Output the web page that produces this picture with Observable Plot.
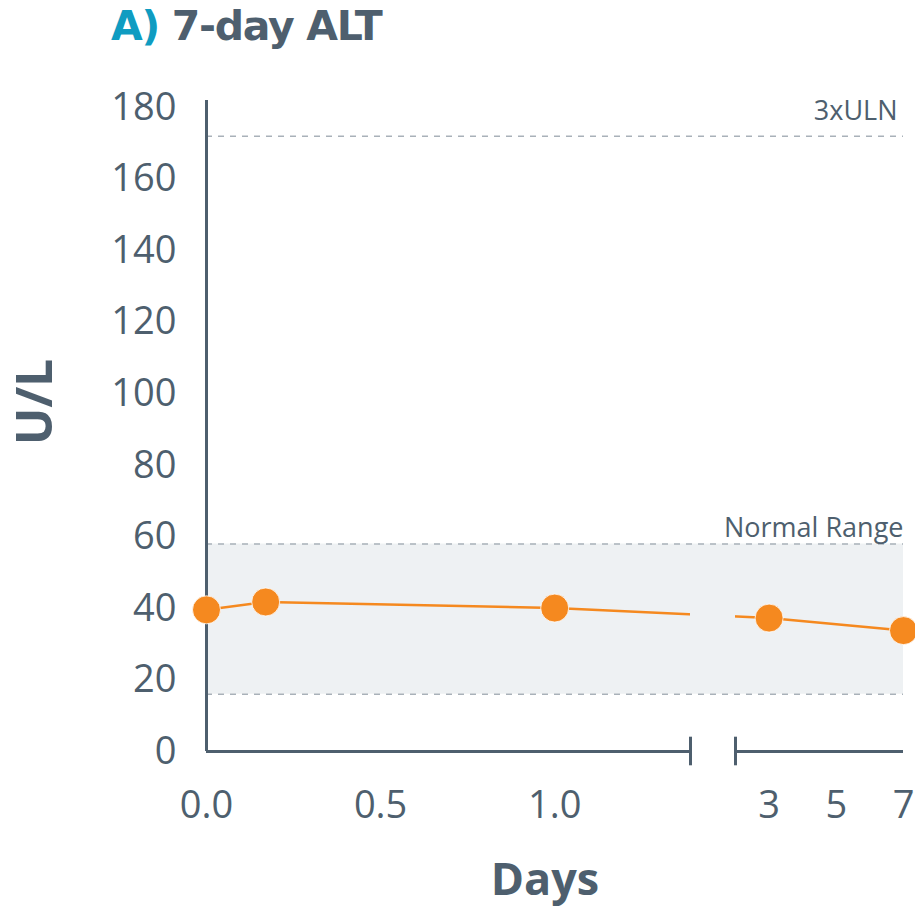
<!DOCTYPE html>
<html>
<head>
<meta charset="utf-8">
<script src="https://cdn.jsdelivr.net/npm/d3@7"></script>
<script src="https://cdn.jsdelivr.net/npm/@observablehq/plot@0.6"></script>
<style>
  html, body { margin: 0; padding: 0; background: #fff; }
  #wrap { position: relative; width: 915px; height: 907px; }
  #title { position: relative; height: 70px; }
  #title span.t { position: absolute; left: 111px; top: 2px; font-family: "DejaVu Sans", sans-serif; font-weight: 700; font-size: 41px; line-height: 48px; letter-spacing: -1.3px; color: #4e5f6e; white-space: nowrap; }
  #title span.a { color: #0f9cc1; }
  svg { display: block; }
</style>
</head>
<body>
<div id="wrap">
  <div id="title"><span class="t"><span class="a">A)</span> 7-day ALT</span></div>
  <div id="chart"></div>
</div>
<script>
// ---- data ----
const days = [0, 0.17, 1, 3, 7];
const alt = [39.6, 41.8, 40.1, 37.3, 33.8];
const yTicks = [0, 20, 40, 60, 80, 100, 120, 140, 160, 180];
const xTicks = [0, 0.5, 1, 3, 5, 7];
const xTickLabels = ["0.0", "0.5", "1.0", "3", "5", "7"];
const normalRange = [16, 58];
const uln3 = 172;
const axisBreak = [1.39, 2];   // end of first segment, start of second segment (days)
const xMax = 7;
const yMax = 182;

const points = days.map((d, i) => ({day: d, alt: alt[i]}));
const labelOf = new Map(xTicks.map((t, i) => [t, xTickLabels[i]]));

const ink = "#4e5f6e";
const orange = "#f5891f";
const shade = "#eef1f3";
const dash = "#a9b1b9";

const chart = Plot.plot({
  width: 915,
  height: 837,
  marginTop: 30,
  marginBottom: 156,
  marginLeft: 206,
  marginRight: 12,
  style: {fontFamily: "'Open Sans', sans-serif", color: ink, background: "#fff", overflow: "visible"},
  x: {type: "linear", domain: [0, axisBreak[0], axisBreak[1], xMax], range: [206, 690, 735, 903]},
  y: {domain: [0, yMax]},
  marks: [
    // normal range band
    Plot.rect([normalRange], {x1: 0, x2: xMax, y1: d => d[0], y2: d => d[1], fill: shade}),
    // dashed reference lines
    Plot.ruleY(normalRange, {x1: 0, x2: xMax, stroke: dash, strokeWidth: 1.5, strokeDasharray: "6,6"}),
    Plot.ruleY([uln3], {x1: 0, x2: xMax, stroke: dash, strokeWidth: 1.5, strokeDasharray: "6,6"}),
    Plot.text([{y: uln3, t: "3xULN"}], {x: xMax, y: "y", text: "t", textAnchor: "end", lineAnchor: "bottom", dx: -6, dy: -16, fontSize: 27, fill: ink}),
    Plot.text([{y: normalRange[1], t: "Normal Range"}], {x: xMax, y: "y", text: "t", textAnchor: "end", lineAnchor: "bottom", dx: 0, dy: -7, fontSize: 27, fill: ink}),
    // line
    Plot.line(points, {x: "day", y: "alt", stroke: orange, strokeWidth: 2.5}),
    // gap in the line at the axis break
    Plot.rect([axisBreak], {x1: d => d[0], x2: d => d[1], y1: normalRange[0] + 10, y2: normalRange[1] - 6, fill: shade}),
    // axes lines
    Plot.ruleX([0], {y1: 0, y2: yMax, stroke: ink, strokeWidth: 3}),
    Plot.ruleY([0], {x1: 0, x2: axisBreak[0], stroke: ink, strokeWidth: 3}),
    Plot.ruleY([0], {x1: axisBreak[1], x2: xMax, stroke: ink, strokeWidth: 3}),
    Plot.ruleX(axisBreak, {y1: -4, y2: 4, stroke: ink, strokeWidth: 3}),
    // dots
    Plot.dot(points, {x: "day", y: "alt", r: 14, fill: orange, stroke: "#fff", strokeWidth: 0.8}),
    // tick labels
    Plot.axisX({ticks: xTicks, tickSize: 0, tickPadding: 40, tickFormat: d => labelOf.get(d), fontSize: 38, label: null}),
    Plot.axisY({ticks: yTicks, tickSize: 0, tickPadding: 30, fontSize: 38, label: null}),
    // axis titles
    Plot.text(["U/L"], {frameAnchor: "left", dx: -171, dy: -24, rotate: -90, textAnchor: "middle", lineAnchor: "middle", fontSize: 50, fontWeight: "bold", fill: ink}),
    Plot.text(["Days"], {frameAnchor: "bottom", dx: -10, dy: 143, textAnchor: "middle", lineAnchor: "bottom", fontSize: 45, fontWeight: "bold", fill: ink})
  ]
});
document.getElementById("chart").appendChild(chart);
</script>
</body>
</html>
